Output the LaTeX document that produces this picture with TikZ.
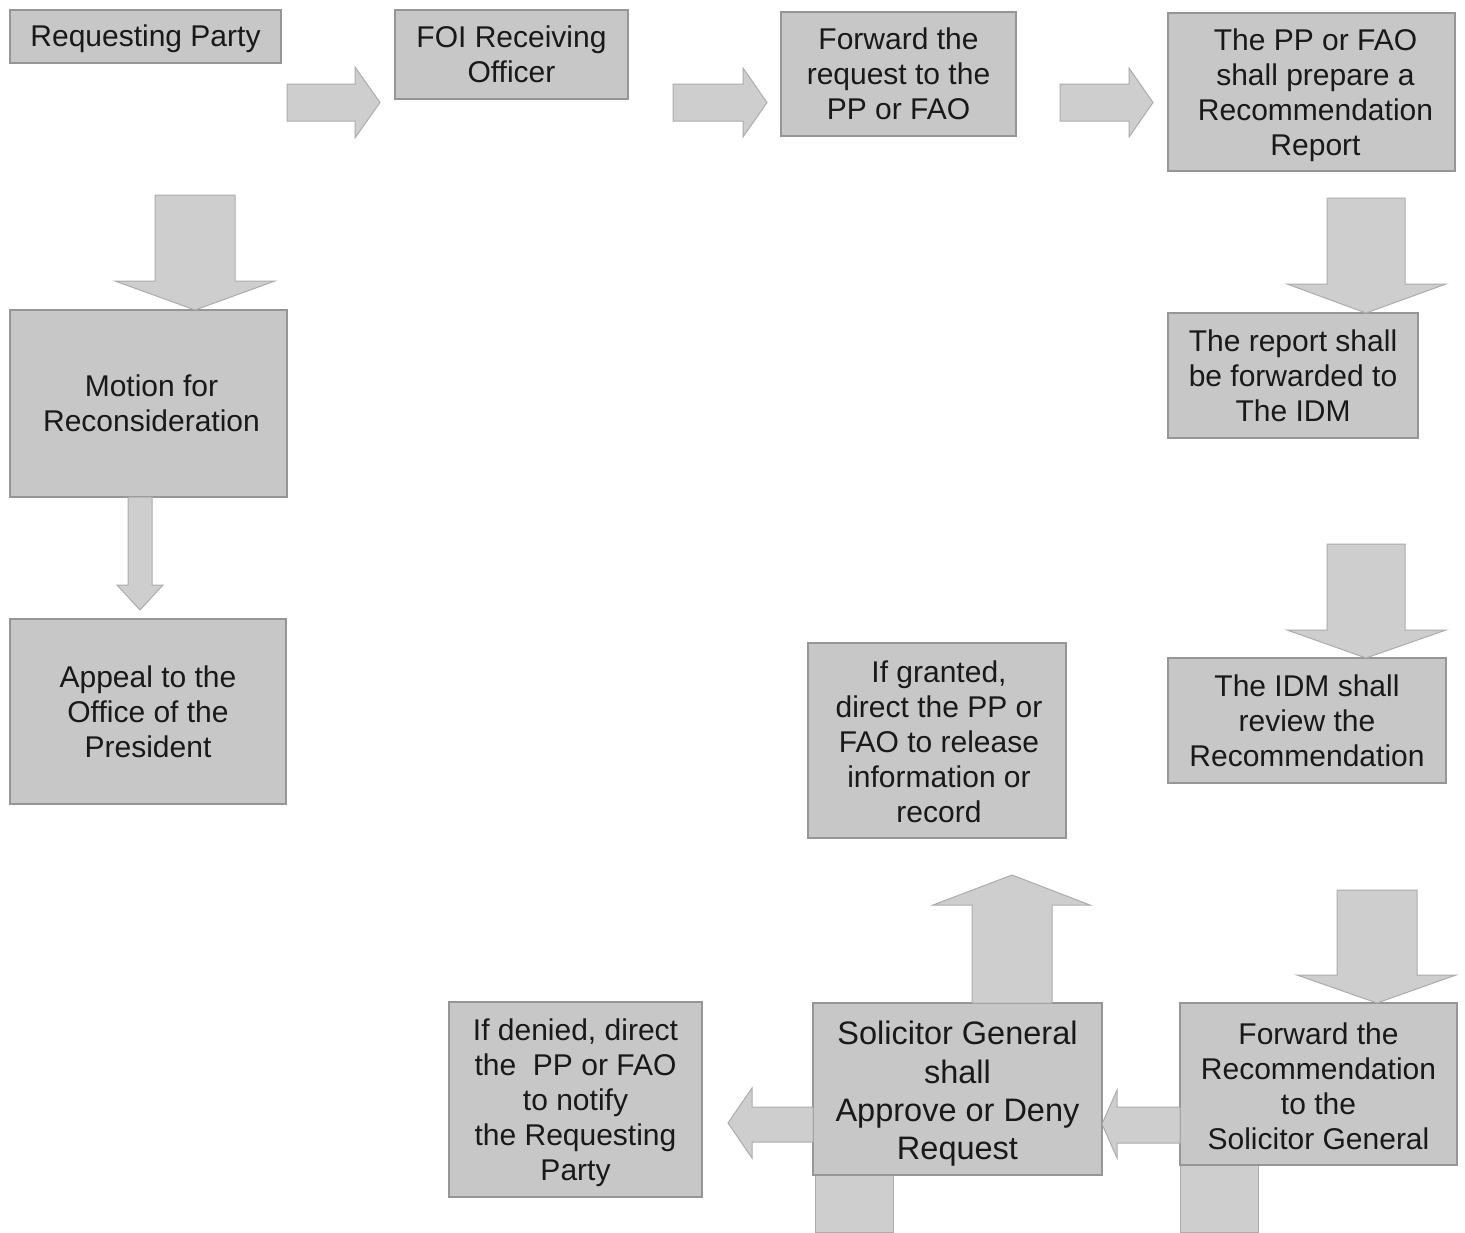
\documentclass[tikz,border=0pt]{standalone}
\usepackage{fontspec}
\setmainfont{Liberation Sans}
\definecolor{boxfill}{RGB}{199,199,199}
\definecolor{boxline}{RGB}{150,150,150}
\definecolor{arrfill}{RGB}{206,206,206}
\definecolor{arrline}{RGB}{172,172,172}
\definecolor{inktext}{RGB}{25,25,25}
\begin{document}
\begin{tikzpicture}[x=1pt,y=-1pt,
  stepbox/.style={draw=boxline, line width=1.2pt, fill=boxfill, inner sep=0pt,
    align=center, text=inktext, font=\fontsize{30}{35}\selectfont},
  steptext/.style={inner sep=0pt, align=center, text=inktext, font=\fontsize{30}{35}\selectfont},
  bigtext/.style={steptext, font=\fontsize{32.5}{38.3}\selectfont},
  blockarr/.style={draw=arrline, line width=1pt, fill=arrfill, line join=miter}]
\useasboundingbox (0,0) rectangle (1465,1232);
\fill[white] (0,0) rectangle (1465,1232);

% partial stems running off the bottom edge
\filldraw[blockarr] (815,1175) rectangle (893,1232);
\filldraw[blockarr] (1180,1165) rectangle (1258,1232);

% boxes
\node[stepbox, minimum width=271pt, minimum height=53pt] (rp) at (145.5,36.5) {};
\node[steptext] at ([yshift=-2pt]rp.center) {Requesting Party};
\node[stepbox, minimum width=233pt, minimum height=89pt] (foi) at (511.5,54.5) {FOI Receiving\\Officer};
\node[stepbox, minimum width=235pt, minimum height=124pt] (fwd) at (898.5,74) {Forward the\\request to the\\PP or FAO};
\node[stepbox, minimum width=287pt, minimum height=158pt] (pp) at (1311.5,92) {};
\node[steptext] at ([xshift=4pt,yshift=-3pt]pp.center) {The PP or FAO\\shall prepare a\\Recommendation\\Report};
\node[stepbox, minimum width=277pt, minimum height=187pt] (mot) at (148.5,403.5) {\hspace{6pt}Motion for\\\hspace{6pt}Reconsideration};
\node[stepbox, minimum width=276pt, minimum height=185pt] (app) at (148,711.5) {Appeal to the\\Office of the\\President};
\node[stepbox, minimum width=250pt, minimum height=125pt] (rep) at (1293,375.5) {The report shall\\be forwarded to\\The IDM};
\node[stepbox, minimum width=278pt, minimum height=125pt] (idm) at (1307,720.5) {The IDM shall\\review the\\Recommendation};
\node[stepbox, minimum width=258pt, minimum height=195pt] (gr) at (937,740.5) {};
\node[steptext] at ([xshift=2pt,yshift=-1pt]gr.center) {If granted,\\direct the PP or\\FAO to release\\information or\\record};
\node[stepbox, minimum width=253pt, minimum height=195pt] (den) at (575.5,1099.5) {};
\node[steptext] at ([yshift=-3pt]den.center) {If denied, direct\\the\ \ PP or FAO\\to notify\\the Requesting\\Party};
\node[stepbox, minimum width=289pt, minimum height=172pt] (sg) at (957.5,1089) {};
\node[bigtext] at ([yshift=-5pt]sg.center) {Solicitor General\\shall\\Approve or Deny\\Request};
\node[stepbox, minimum width=277pt, minimum height=162pt] (fsg) at (1318.5,1084) {};
\node[steptext] at ([yshift=-2pt]fsg.center) {Forward the\\Recommendation\\to the\\Solicitor General};

% block arrows
\filldraw[blockarr] (287,84) -- (355,84) -- (355,67) -- (380,102.5) -- (355,138) -- (355,121) -- (287,121) -- cycle;
\filldraw[blockarr] (673,84) -- (743,84) -- (743,68) -- (767,102.5) -- (743,137) -- (743,121) -- (673,121) -- cycle;
\filldraw[blockarr] (1060,84) -- (1129,84) -- (1129,68) -- (1153,102.5) -- (1129,137) -- (1129,121) -- (1060,121) -- cycle;
\filldraw[blockarr] (155,195) -- (235,195) -- (235,281) -- (275,281) -- (195,310) -- (115,281) -- (155,281) -- cycle;
\filldraw[blockarr] (128,497) -- (152,497) -- (152,585) -- (163,585) -- (140,610) -- (117,585) -- (128,585) -- cycle;
\filldraw[blockarr] (1327,198) -- (1405,198) -- (1405,284) -- (1446,284) -- (1366,313) -- (1287,284) -- (1327,284) -- cycle;
\filldraw[blockarr] (1327,544) -- (1405,544) -- (1405,630) -- (1446,630) -- (1366,658) -- (1287,630) -- (1327,630) -- cycle;
\filldraw[blockarr] (1337,890) -- (1417,890) -- (1417,975) -- (1456,975) -- (1377,1003) -- (1297,975) -- (1337,975) -- cycle;
\filldraw[blockarr] (972,1003) -- (972,905) -- (933,905) -- (1012,875) -- (1090,905) -- (1052,905) -- (1052,1003) -- cycle;
\filldraw[blockarr] (1180,1107) -- (1117,1107) -- (1117,1090) -- (1102,1124) -- (1117,1158) -- (1117,1143) -- (1180,1143) -- cycle;
\filldraw[blockarr] (813,1107) -- (752,1107) -- (752,1088) -- (728,1123) -- (752,1158) -- (752,1142) -- (813,1142) -- cycle;
\end{tikzpicture}
\end{document}
